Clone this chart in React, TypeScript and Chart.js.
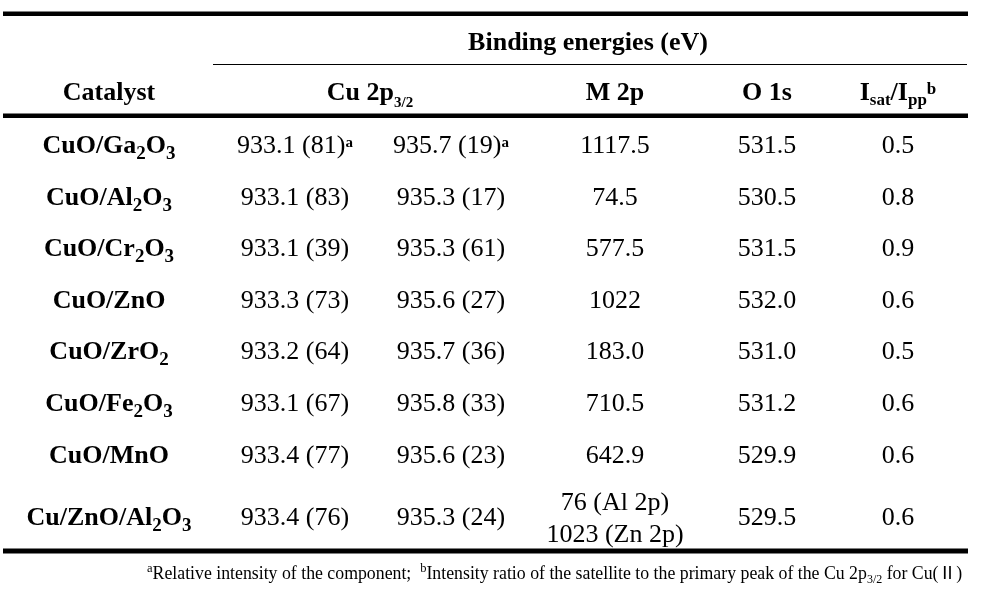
import React, { useEffect, useRef } from "react";
import { Chart, registerables } from "chart.js";

Chart.register(...registerables);

// ---------- data ----------
const catalysts = [
  "CuO/Ga_{2}O_{3}",
  "CuO/Al_{2}O_{3}",
  "CuO/Cr_{2}O_{3}",
  "CuO/ZnO",
  "CuO/ZrO_{2}",
  "CuO/Fe_{2}O_{3}",
  "CuO/MnO",
  "Cu/ZnO/Al_{2}O_{3}",
];
const cuMainBE = [933.1, 933.1, 933.1, 933.3, 933.2, 933.1, 933.4, 933.4];
const cuMainPct = [81, 83, 39, 73, 64, 67, 77, 76];
const cuSatBE = [935.7, 935.3, 935.3, 935.6, 935.7, 935.8, 935.6, 935.3];
const cuSatPct = [19, 17, 61, 27, 36, 33, 23, 24];
const cuNoteMark = ["a", "", "", "", "", "", "", ""];
const m2p = ["1117.5", "74.5", "577.5", "1022", "183.0", "710.5", "642.9", "76 (Al 2p)\n1023 (Zn 2p)"];
const o1s = [531.5, 530.5, 531.5, 532.0, 531.0, 531.2, 529.9, 529.5];
const satRatio = [0.5, 0.8, 0.9, 0.6, 0.5, 0.6, 0.6, 0.6];

const groupHeader = "Binding energies (eV)";
const columnHeaders = ["Catalyst", "Cu 2p_{3/2}", "M 2p", "O 1s", "I_{sat}/I_{pp}^{b}"];
const footnote =
  "^{a}Relative intensity of the component;  ^{b}Intensity ratio of the satellite to the primary peak of the Cu 2p_{3/2} for Cu(\u2161)";

// ---------- layout (design units = canvas px) ----------
const W = 985;
const H = 596;
const colX = [109, 295, 451, 615, 767, 898];
const headerColX = [109, 370, 615, 767, 898];
const rowBase = [153, 204.5, 256, 307.5, 359, 411, 462.5, 525];
const headerBase = 99.5;
const groupBase = 50;
const groupX = 588;
const footX = 147;
const footBase = 579;
const rules = [
  { y: 13.7, x0: 3, x1: 968, w: 4.6 },
  { y: 64.5, x0: 213, x1: 967, w: 1 },
  { y: 115.7, x0: 3, x1: 968, w: 4.6 },
  { y: 551, x0: 3, x1: 968, w: 5 },
];

const FONT = '"Liberation Serif", "Times New Roman", "Noto Sans CJK SC", serif';

type Seg = { t: string; k: "n" | "sub" | "sup" };
type RStyle = {
  size: number;
  bold: boolean;
  subSize?: number;
  subDy?: number;
  subBold?: boolean;
  supSize?: number;
  supDy?: number;
  supBold?: boolean;
};

function parseRich(s: string): Seg[] {
  const segs: Seg[] = [];
  let buf = "";
  let i = 0;
  while (i < s.length) {
    const ch = s[i];
    if ((ch === "_" || ch === "^") && s[i + 1] === "{") {
      if (buf) {
        segs.push({ t: buf, k: "n" });
        buf = "";
      }
      const end = s.indexOf("}", i + 2);
      segs.push({ t: s.slice(i + 2, end), k: ch === "_" ? "sub" : "sup" });
      i = end + 1;
    } else {
      buf += ch;
      i++;
    }
  }
  if (buf) segs.push({ t: buf, k: "n" });
  return segs;
}

function drawRich(
  ctx: CanvasRenderingContext2D,
  s: string,
  x: number,
  y: number,
  st: RStyle,
  align: "center" | "left" | "right"
) {
  const segs = parseRich(s);
  const fontFor = (k: Seg["k"]) => {
    if (k === "sub") return `${(st.subBold ?? st.bold) ? "bold " : ""}${st.subSize ?? st.size * 0.65}px ${FONT}`;
    if (k === "sup") return `${(st.supBold ?? st.bold) ? "bold " : ""}${st.supSize ?? st.size * 0.65}px ${FONT}`;
    return `${st.bold ? "bold " : ""}${st.size}px ${FONT}`;
  };
  const widths = segs.map((sg) => {
    ctx.font = fontFor(sg.k);
    return ctx.measureText(sg.t).width;
  });
  const total = widths.reduce((a, b) => a + b, 0);
  let cx = align === "center" ? x - total / 2 : align === "right" ? x - total : x;
  ctx.textAlign = "left";
  ctx.textBaseline = "alphabetic";
  segs.forEach((sg, i) => {
    ctx.font = fontFor(sg.k);
    const dy = sg.k === "sub" ? st.subDy ?? 5 : sg.k === "sup" ? st.supDy ?? -7 : 0;
    ctx.fillText(sg.t, cx, y + dy);
    cx += widths[i];
  });
}

const cellStyles: RStyle[] = [
  { size: 26, bold: true, subSize: 19, subDy: 6 },
  { size: 26, bold: false, supSize: 15, supDy: -6, supBold: true },
  { size: 26, bold: false, supSize: 15, supDy: -6, supBold: true },
  { size: 26, bold: false },
  { size: 26, bold: false },
  { size: 26, bold: false },
];

const headerStyles: RStyle[] = [
  { size: 26, bold: true },
  { size: 26, bold: true, subSize: 15, subDy: 7 },
  { size: 26, bold: true },
  { size: 26, bold: true },
  { size: 26, bold: true, subSize: 17, subDy: 5, supSize: 17, supDy: -6 },
];

const footStyle: RStyle = { size: 17.8, bold: false, subSize: 12, subDy: 4, supSize: 12.5, supDy: -7 };

function buildColumns(): string[][] {
  const col0 = catalysts;
  const col1 = cuMainBE.map(
    (v, i) => `${v.toFixed(1)} (${cuMainPct[i]})${cuNoteMark[i] ? `^{${cuNoteMark[i]}}` : ""}`
  );
  const col2 = cuSatBE.map(
    (v, i) => `${v.toFixed(1)} (${cuSatPct[i]})${cuNoteMark[i] ? `^{${cuNoteMark[i]}}` : ""}`
  );
  const col3 = m2p;
  const col4 = o1s.map((v) => v.toFixed(1));
  const col5 = satRatio.map((v) => v.toFixed(1));
  return [col0, col1, col2, col3, col4, col5];
}

const tablePlugin = {
  id: "tablePlugin",
  afterDraw(chart: any) {
    const ctx: CanvasRenderingContext2D = chart.ctx;
    const xs = chart.scales.x;
    const ys = chart.scales.y;
    const px = (v: number) => xs.getPixelForValue(v);
    const py = (v: number) => ys.getPixelForValue(v);
    ctx.save();
    ctx.fillStyle = "#000";
    ctx.strokeStyle = "#000";

    // rules
    rules.forEach((r) => {
      ctx.lineWidth = r.w;
      ctx.lineCap = "butt";
      ctx.beginPath();
      ctx.moveTo(px(r.x0), py(r.y));
      ctx.lineTo(px(r.x1), py(r.y));
      ctx.stroke();
    });

    // group header
    drawRich(ctx, groupHeader, px(groupX), py(groupBase), { size: 26, bold: true }, "center");
    // column headers
    columnHeaders.forEach((h, i) => {
      drawRich(ctx, h, px(headerColX[i]), py(headerBase), headerStyles[i], "center");
    });

    // cells
    const cols = buildColumns();
    chart.data.datasets.forEach((ds: any, d: number) => {
      const meta = chart.getDatasetMeta(d);
      meta.data.forEach((el: any, i: number) => {
        const txt: string = cols[d][i];
        const lines = txt.split("\n");
        const lh = 31.7;
        lines.forEach((ln, k) => {
          const yy = el.y + (k - (lines.length - 1) / 2) * lh + (lines.length > 1 ? 1 : 0);
          drawRich(ctx, ln, el.x, yy, cellStyles[d], "center");
        });
      });
    });

    // footnote
    drawRich(ctx, footnote, px(footX), py(footBase), footStyle, "left");
    ctx.restore();
  },
};

export default function App() {
  const ref = useRef<HTMLCanvasElement | null>(null);
  useEffect(() => {
    document.body.style.margin = "0";
    document.body.style.background = "#fff";
    if (!ref.current) return;
    const cols = buildColumns();
    const datasets = cols.map((col, c) => ({
      label: `col${c}`,
      data: col.map((_, i) => ({ x: colX[c], y: rowBase[i] })),
      pointRadius: 0,
      pointHoverRadius: 0,
      showLine: false,
    }));
    const chart = new Chart(ref.current, {
      type: "scatter",
      data: { datasets },
      options: {
        animation: false,
        responsive: false,
        devicePixelRatio: 1,
        events: [],
        layout: { padding: 0 },
        plugins: { legend: { display: false }, tooltip: { enabled: false } },
        scales: {
          x: { type: "linear", display: false, min: 0, max: W },
          y: { type: "linear", display: false, min: 0, max: H, reverse: true },
        },
      },
      plugins: [tablePlugin],
    } as any);
    return () => chart.destroy();
  }, []);
  return <canvas ref={ref} width={W} height={H} style={{ display: "block" }} />;
}
